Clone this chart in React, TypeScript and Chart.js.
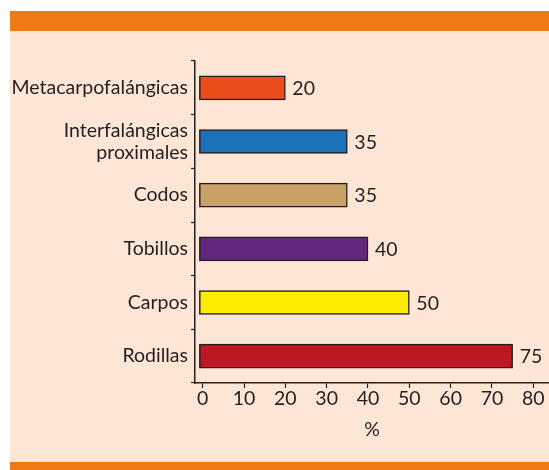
import React, { useEffect, useRef } from 'react';
import { Chart, registerables } from 'chart.js';

Chart.register(...registerables);

const categories: (string | string[])[] = [
  'Metacarpofalángicas',
  ['Interfalángicas', 'proximales'],
  'Codos',
  'Tobillos',
  'Carpos',
  'Rodillas',
];
const values = [20, 35, 35, 40, 50, 75];
const barColors = ['#E94E1B', '#1D71B8', '#C9A068', '#63267F', '#FFEC00', '#BE1622'];
const xTicks = [0, 10, 20, 30, 40, 50, 60, 70, 80];
const xTitle = '%';

const FONT = 'Lato';
const FSIZE = 19.5;
const INK = '#231F20';

const valueLabels = {
  id: 'valueLabels',
  afterDatasetsDraw(chart: any) {
    const ctx = chart.ctx;
    const meta = chart.getDatasetMeta(0);
    ctx.save();
    ctx.font = `${FSIZE}px ${FONT}`;
    ctx.fillStyle = INK;
    ctx.textAlign = 'left';
    ctx.textBaseline = 'middle';
    meta.data.forEach((bar: any, i: number) => {
      ctx.fillText(String(values[i]), bar.x + 7, bar.y + 1);
    });
    ctx.restore();
  },
};

export default function App() {
  const ref = useRef<HTMLCanvasElement>(null);
  useEffect(() => {
    if (!ref.current) return;
    const chart = new Chart(ref.current, {
      type: 'bar',
      data: {
        labels: categories as any,
        datasets: [
          {
            data: values,
            backgroundColor: barColors,
            borderColor: INK,
            borderWidth: 1.5,
            borderSkipped: false,
            barThickness: 24,
            base: -0.8,
          } as any,
        ],
      },
      options: {
        indexAxis: 'y',
        responsive: false,
        animation: false,
        layout: { padding: { left: 0, right: 0, top: 30, bottom: 0 } },
        plugins: { legend: { display: false }, tooltip: { enabled: false } },
        scales: {
          x: {
            type: 'linear',
            min: -1.86,
            max: 83.8,
            afterBuildTicks: (scale: any) => {
              scale.ticks = xTicks.map((v) => ({ value: v }));
            },
            afterFit: (scale: any) => {
              scale.height = 79;
            },
            border: { display: true, color: INK, width: 1.5 },
            grid: { drawOnChartArea: false, drawTicks: true, tickLength: 5, color: INK, tickWidth: 1.2 },
            ticks: {
              color: INK,
              padding: 0,
              font: { family: FONT, size: FSIZE, lineHeight: 1.1 },
              maxRotation: 0,
              autoSkip: false,
            },
            title: {
              display: true,
              text: xTitle,
              color: INK,
              font: { family: FONT, size: FSIZE },
              padding: { top: 4, bottom: 21 },
            },
          },
          y: {
            type: 'category',
            afterFit: (scale: any) => {
              scale.width = 185;
            },
            border: { display: true, color: INK, width: 1.5 },
            grid: { offset: true, drawOnChartArea: false, drawTicks: true, tickLength: 4, color: INK, tickWidth: 1.2 },
            ticks: {
              color: INK,
              padding: 3,
              font: { family: FONT, size: FSIZE, lineHeight: 1.15 },
              autoSkip: false,
            },
          },
        },
      },
      plugins: [valueLabels],
    });
    return () => chart.destroy();
  }, []);

  return (
    <div style={{ position: 'absolute', left: 0, top: 0, width: 549, height: 470, background: '#fff' }}>
      <div style={{ position: 'absolute', left: 10, top: 11, width: 539, height: 20, background: '#F07A14' }} />
      <div style={{ position: 'absolute', left: 10, top: 31, width: 539, height: 431, background: '#FDE6D5' }} />
      <div style={{ position: 'absolute', left: 10, top: 462, width: 539, height: 8, background: '#F07A14' }} />
      <canvas ref={ref} width={539} height={431} style={{ position: 'absolute', left: 10, top: 31, width: 539, height: 431 }} />
    </div>
  );
}
